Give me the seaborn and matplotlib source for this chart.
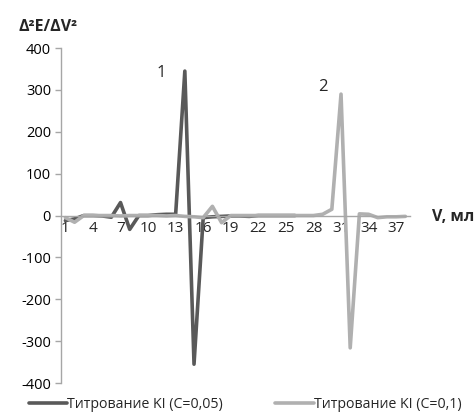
import matplotlib
matplotlib.use("Agg")
import matplotlib.pyplot as plt
import seaborn as sns
import pandas as pd
import numpy as np
from matplotlib.lines import Line2D

volumes = list(range(1, 39))
series1_name = "Титрование KI (C=0,05)"
series2_name = "Титрование KI (C=0,1)"
series1 = [-12, -8, 0, 0, -1, -4, 31, -33, 0, 0, 2, 3, 3, 345, -355, -5,
           -3, -2, -1, -1, -2, 0, 0, 0, 0, 0]
series2 = [-5, -16, 0, 0, 0, 0, -1, 0, 0, 0, 0, -1, 0, -2, -3, -5, 22, -17,
           0, 0, 0, 0, 0, 0, 0, 0, 0, 0, 3, 15, 290, -316, 4, 3, -5, -3, -3, -2]
xtick_labels = [str(v) for v in range(1, 38, 3)]
yticks = list(range(-400, 401, 100))

sns.set_theme(style="white")
plt.rcParams['font.family'] = ['Open Sans', 'DejaVu Sans']

df = pd.concat([
    pd.DataFrame({"V": volumes[:len(series1)], "val": series1, "series": series1_name}),
    pd.DataFrame({"V": volumes[:len(series2)], "val": series2, "series": series2_name}),
])

fig = plt.figure(figsize=(4.75, 4.13), dpi=100)
ax = fig.add_axes([0.128, 0.0726, 0.735, 0.811])

dark = "#595959"
light = "#b0b0b0"
palette = {series1_name: dark, series2_name: light}
sns.lineplot(data=df, x="V", y="val", hue="series", palette=palette,
             linewidth=2.6, ax=ax, legend=False, sort=False)

ax.set_xlim(0.5, 38.5)
ax.set_ylim(-400, 400)
ax.set_yticks(yticks)
ax.set_yticklabels([str(v) for v in yticks], fontsize=10.5, color="#000000")
ax.set_xticks(list(range(1, 38, 3)))
ax.set_xticklabels(xtick_labels, fontsize=10.5, color="#000000")
ax.set_xticks(np.arange(0.5, 38.6, 1.0), minor=True)
ax.tick_params(axis='x', which='major', length=0, pad=4)
ax.tick_params(axis='x', which='minor', direction='in', length=4, color="#a6a6a6", width=1)
ax.tick_params(axis='y', which='major', direction='out', length=4, color="#a6a6a6", width=1, pad=3,
               left=True)
ax.set_xlabel("")
ax.set_ylabel("")

for s in ['top', 'right']:
    ax.spines[s].set_visible(False)
ax.spines['bottom'].set_position(('data', 0))
ax.spines['bottom'].set_color("#a6a6a6")
ax.spines['left'].set_color("#a6a6a6")
ax.spines['bottom'].set_linewidth(1)
ax.spines['left'].set_linewidth(1)

ax.text(11.4, 340, "1", fontsize=12, ha='center', va='center')
ax.text(29.0, 306, "2", fontsize=12, ha='center', va='center')

fig.text(48 / 475, 1 - 27 / 413, "Δ²E/ΔV²", fontsize=11.5, fontweight='bold',
         ha='center', va='center')
fig.text(453 / 475, 1 - 217 / 413, "V, мл", fontsize=11.5, fontweight='bold',
         ha='center', va='center')

handles = [Line2D([], [], color=dark, linewidth=2.6),
           Line2D([], [], color=light, linewidth=2.6)]
fig.legend(handles, [series1_name, series2_name], loc='center',
           bbox_to_anchor=(0.516, 1 - 404 / 413), ncol=2, frameon=False,
           fontsize=10.2, handlelength=2.7, handletextpad=0.0, columnspacing=3.7,
           borderaxespad=0, borderpad=0)

fig.savefig("out.png", dpi=100)
